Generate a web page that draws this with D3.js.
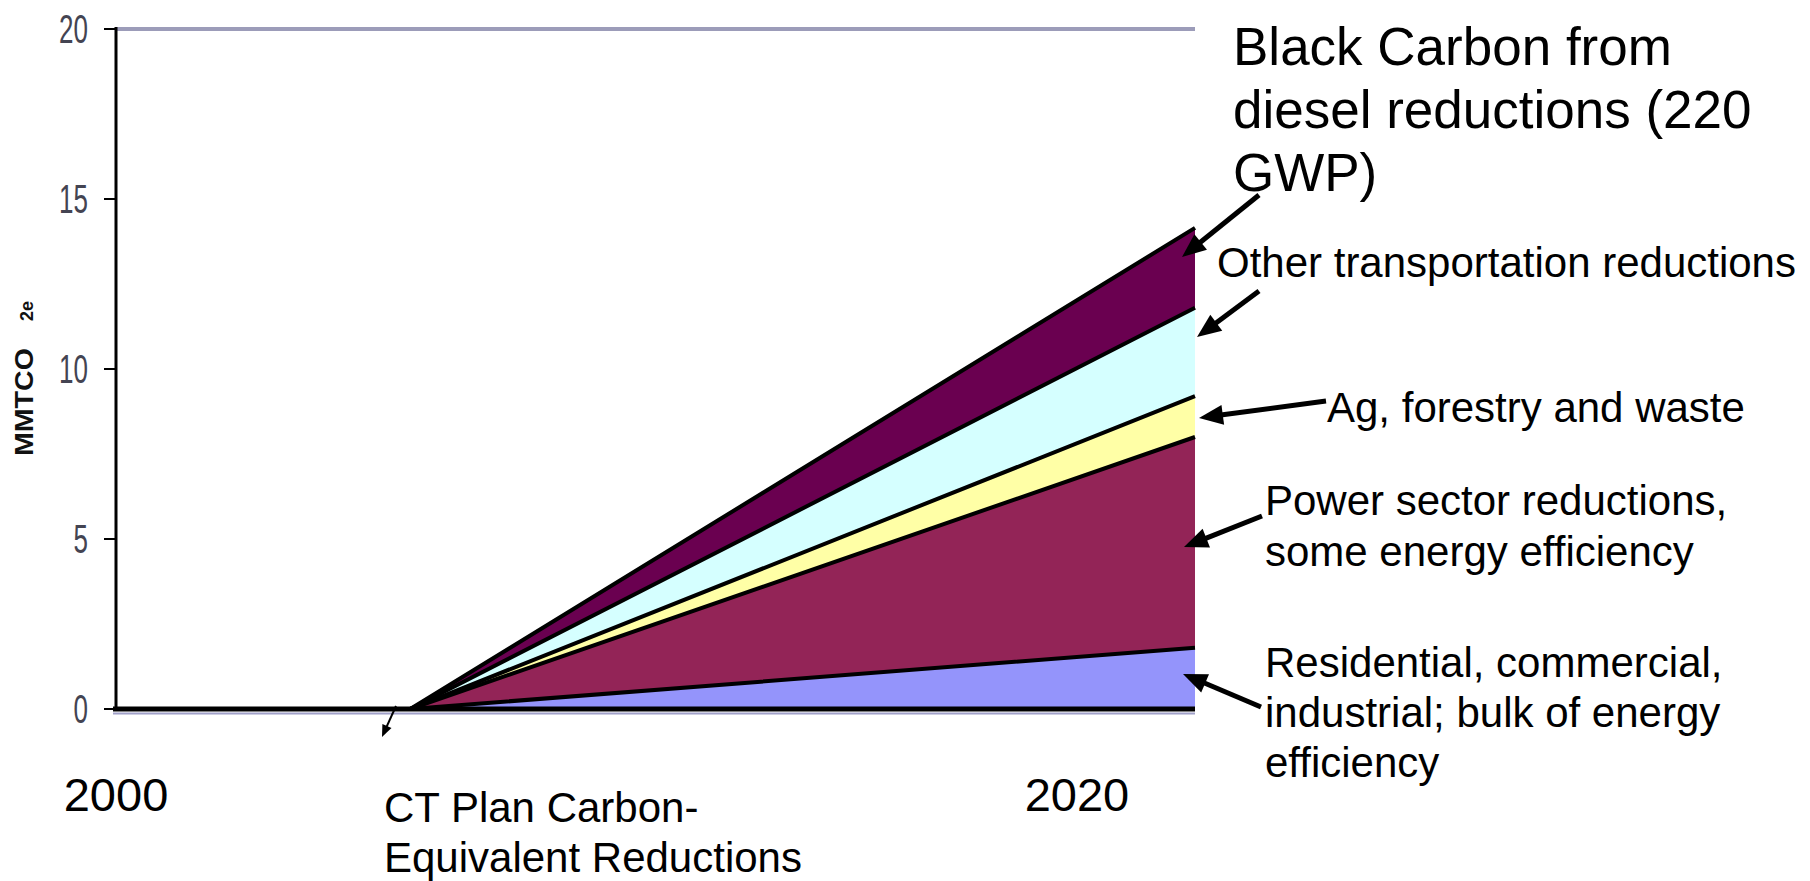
<!DOCTYPE html>
<html><head><meta charset="utf-8">
<script src="https://cdn.jsdelivr.net/npm/d3@7"></script>
<style>html,body{margin:0;padding:0;background:#fff;} svg{display:block}</style>
</head><body>
<svg id="chart" width="1810" height="881"></svg>
<script>
// ---- data ----
const years = [2000, 2006, 2022];
const seriesNames = ["Residential, commercial, industrial", "Power sector", "Ag, forestry and waste", "Other transportation", "Black Carbon from diesel"];
const residential    = [0, 0, 1.8];
const power          = [0, 0, 6.2];
const agForestry     = [0, 0, 1.2];
const otherTransport = [0, 0, 2.6];
const blackCarbon    = [0, 0, 2.35];
const yTicks = [0, 5, 10, 15, 20];
const xTickYears = [2000, 2020];
const seriesColors = ["#9494fb", "#932457", "#ffffa6", "#d5ffff", "#6a0050"];

const seriesValues = [residential, power, agForestry, otherTransport, blackCarbon];
const table = years.map((yr, i) => {
  const row = {year: yr};
  seriesNames.forEach((k, j) => row[k] = seriesValues[j][i]);
  return row;
});

const svg = d3.select("#chart");
const FONT = "'Liberation Sans', Arial, sans-serif";
const pLeft = 116, pRight = 1195, pTop = 29, pBottom = 709;

const x = d3.scaleLinear().domain([2000, 2022]).range([pLeft, pRight]);
const y = d3.scaleLinear().domain([0, 20]).range([pBottom, pTop]);

const stacked = d3.stack().keys(seriesNames)(table);

// top border / gridline
svg.append("line").attr("x1", pLeft).attr("x2", pRight).attr("y1", y(20)).attr("y2", y(20))
  .attr("stroke", "#9c9cb9").attr("stroke-width", 4);

// areas
const area = d3.area().x(d => x(d.data.year)).y0(d => y(d[0])).y1(d => y(d[1]));
svg.append("g").selectAll("path").data(stacked).join("path")
  .attr("d", area).attr("fill", (d, i) => seriesColors[i]);

// series boundary lines
const line = d3.line().x(d => x(d.data.year)).y(d => y(d[1]));
svg.append("g").selectAll("path").data(stacked).join("path")
  .attr("d", line).attr("fill", "none").attr("stroke", "#000").attr("stroke-width", 4);

// baseline
svg.append("line").attr("x1", pLeft - 3).attr("x2", pRight).attr("y1", y(0) + 4.5).attr("y2", y(0) + 4.5)
  .attr("stroke", "#a0a0c8").attr("stroke-width", 2);
svg.append("line").attr("x1", pLeft - 3).attr("x2", pRight).attr("y1", y(0)).attr("y2", y(0))
  .attr("stroke", "#000").attr("stroke-width", 5);

// y axis
svg.append("line").attr("x1", pLeft).attr("x2", pLeft).attr("y1", y(20) - 2).attr("y2", y(0) + 2)
  .attr("stroke", "#000").attr("stroke-width", 3);
const yt = svg.append("g");
yt.selectAll("line").data(yTicks).join("line")
  .attr("x1", pLeft - 12).attr("x2", pLeft).attr("y1", d => y(d)).attr("y2", d => y(d))
  .attr("stroke", "#000").attr("stroke-width", 2);
yt.selectAll("text").data(yTicks).join("text")
  .attr("transform", d => `translate(${pLeft - 28},${y(d)}) scale(0.65,1)`)
  .attr("dy", "0.35em").attr("text-anchor", "end")
  .attr("font-family", FONT).attr("font-size", 40).attr("fill", "#444452")
  .text(d => d);

// y axis title
const yTitle = svg.append("text")
  .attr("font-family", FONT).attr("font-weight", "bold").attr("font-size", 25).attr("fill", "#111")
  .text("MMTCO");
const natLen = yTitle.node().getComputedTextLength() || 94;
yTitle.attr("transform", `translate(33,456) rotate(-90) scale(${108 / natLen},1)`);
svg.append("text").attr("transform", "translate(33,321) rotate(-90)")
  .attr("font-family", FONT).attr("font-weight", "bold").attr("font-size", 18).attr("fill", "#111")
  .text("2e");

// x labels
svg.append("g").selectAll("text").data(xTickYears).join("text")
  .attr("x", d => x(d) + (d === 2020 ? -20 : 0)).attr("y", 811)
  .attr("text-anchor", "middle").attr("font-family", FONT).attr("font-size", 47).attr("fill", "#000")
  .text(d => d);

// annotations
const notes = [
  {lines: ["Black Carbon from", "diesel reductions (220", "GWP)"], x: 1233, y: 65, size: 53, lh: 63},
  {lines: ["Other transportation reductions"], x: 1217, y: 277, size: 42, lh: 50},
  {lines: ["Ag, forestry and waste"], x: 1327, y: 422, size: 42, lh: 50},
  {lines: ["Power sector reductions,", "some energy efficiency"], x: 1265, y: 515, size: 42, lh: 51},
  {lines: ["Residential, commercial,", "industrial; bulk of energy", "efficiency"], x: 1265, y: 677, size: 42, lh: 50},
  {lines: ["CT Plan Carbon-", "Equivalent Reductions"], x: 384, y: 822, size: 42, lh: 50}
];
notes.forEach(n => {
  const t = svg.append("text").attr("font-family", FONT).attr("font-size", n.size).attr("fill", "#000");
  n.lines.forEach((s, i) => t.append("tspan").attr("x", n.x).attr("y", n.y + i * n.lh).text(s));
});

// arrows
const arrows = [
  {x1: 1259, y1: 195, x2: 1182, y2: 257, w: 5, hl: 24, hw: 20},
  {x1: 1259, y1: 291, x2: 1197, y2: 337, w: 5, hl: 24, hw: 20},
  {x1: 1326, y1: 401, x2: 1199, y2: 418, w: 5, hl: 24, hw: 20},
  {x1: 1262, y1: 516, x2: 1184, y2: 547, w: 5, hl: 24, hw: 20},
  {x1: 1261, y1: 707, x2: 1183, y2: 674, w: 5, hl: 24, hw: 20},
  {x1: 396, y1: 706, x2: 382, y2: 737, w: 2, hl: 12, hw: 10}
];
arrows.forEach(a => {
  const dx = a.x2 - a.x1, dy = a.y2 - a.y1, L = Math.hypot(dx, dy);
  const ux = dx / L, uy = dy / L;
  const bx = a.x2 - ux * a.hl, by = a.y2 - uy * a.hl;
  svg.append("line").attr("x1", a.x1).attr("y1", a.y1).attr("x2", bx + ux * 2).attr("y2", by + uy * 2)
    .attr("stroke", "#000").attr("stroke-width", a.w);
  const px = -uy * a.hw / 2, py = ux * a.hw / 2;
  svg.append("path").attr("d", `M${a.x2},${a.y2}L${bx + px},${by + py}L${bx - px},${by - py}Z`).attr("fill", "#000");
});
</script>
</body></html>
